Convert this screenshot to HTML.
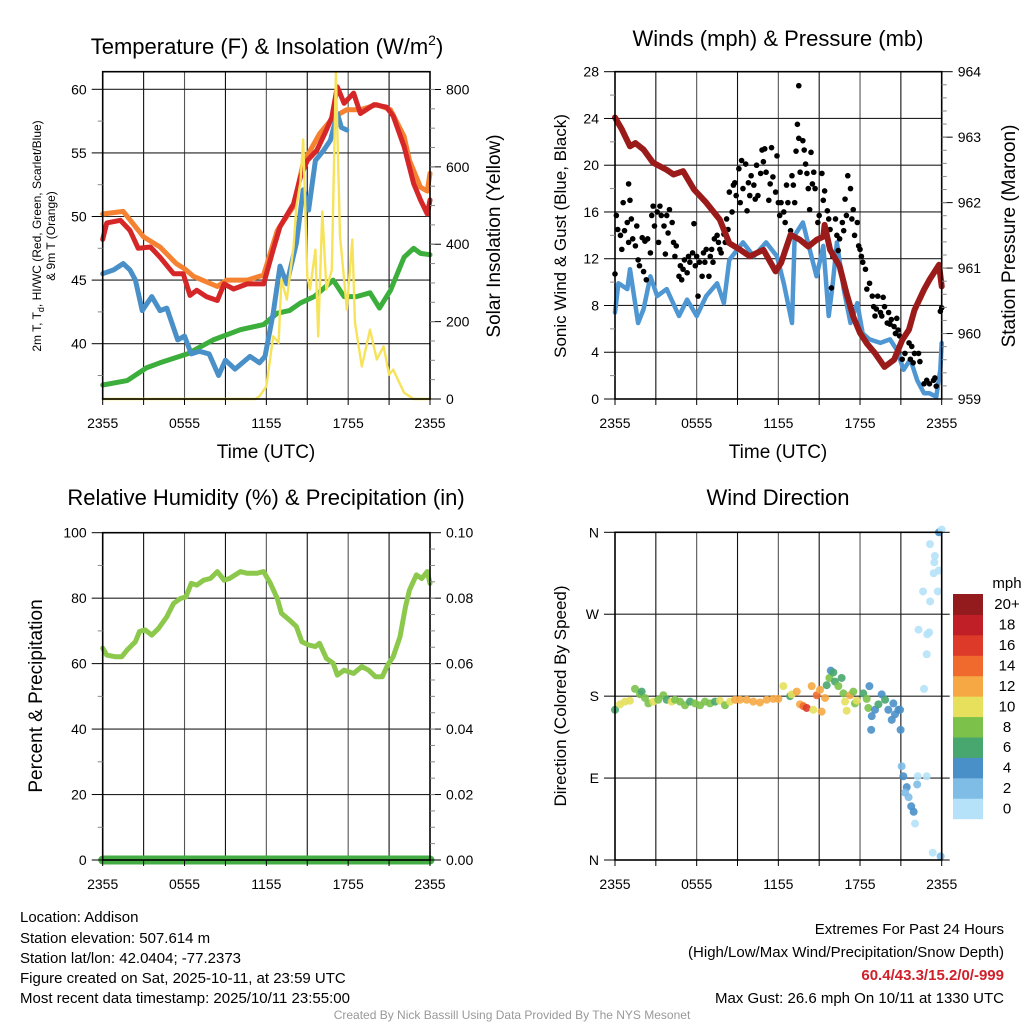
<!DOCTYPE html>
<html><head><meta charset="utf-8">
<style>
html,body{margin:0;padding:0;background:#fff;}
svg{display:block;font-family:"Liberation Sans",Arial,sans-serif;}
</style></head>
<body>
<svg id="chart" width="1024" height="1024" viewBox="0 0 1024 1024" xmlns="http://www.w3.org/2000/svg">
<rect width="1024" height="1024" fill="#fff"/>
<g id="grids"></g>
<g id="series"></g>
<g id="axes"></g>
<text x="267" y="54" font-size="22" text-anchor="middle">Temperature (F) &amp; Insolation (W/m<tspan font-size="14" dy="-9">2</tspan><tspan dy="9">)</tspan></text>
<text x="778" y="46" font-size="22" text-anchor="middle">Winds (mph) &amp; Pressure (mb)</text>
<text x="266" y="505" font-size="22" text-anchor="middle">Relative Humidity (%) &amp; Precipitation (in)</text>
<text x="778" y="505" font-size="22" text-anchor="middle">Wind Direction</text>

<text x="266" y="458" font-size="19" text-anchor="middle">Time (UTC)</text>
<text x="778" y="458" font-size="19" text-anchor="middle">Time (UTC)</text>

<text transform="translate(41,236) rotate(-90)" font-size="12" text-anchor="middle">2m T, T<tspan font-size="9" dy="3">d</tspan><tspan dy="-3">, HI/WC (Red, Green, Scarlet/Blue)</tspan></text>
<text transform="translate(55,236) rotate(-90)" font-size="12" text-anchor="middle">&amp; 9m T (Orange)</text>
<text transform="translate(500,236) rotate(-90)" font-size="19" text-anchor="middle">Solar Insolation (Yellow)</text>
<text transform="translate(566,236) rotate(-90)" font-size="17" text-anchor="middle">Sonic Wind &amp; Gust (Blue, Black)</text>
<text transform="translate(1015,236) rotate(-90)" font-size="19" text-anchor="middle">Station Pressure (Maroon)</text>
<text transform="translate(42,696) rotate(-90)" font-size="19" text-anchor="middle">Percent &amp; Precipitation</text>
<text transform="translate(566,696) rotate(-90)" font-size="17" text-anchor="middle">Direction (Colored By Speed)</text>

<g font-size="15">
<text x="20" y="922">Location: Addison</text>
<text x="20" y="943">Station elevation: 507.614 m</text>
<text x="20" y="963">Station lat/lon: 42.0404; -77.2373</text>
<text x="20" y="983">Figure created on Sat, 2025-10-11, at 23:59 UTC</text>
<text x="20" y="1003">Most recent data timestamp: 2025/10/11 23:55:00</text>
</g>
<g font-size="15" text-anchor="end">
<text x="1004" y="934">Extremes For Past 24 Hours</text>
<text x="1004" y="957">(High/Low/Max Wind/Precipitation/Snow Depth)</text>
<text x="1004" y="980" fill="#d0202a" font-weight="bold">60.4/43.3/15.2/0/-999</text>
<text x="1004" y="1003">Max Gust: 26.6 mph On 10/11 at 1330 UTC</text>
</g>
<text x="512" y="1019" font-size="12" fill="#999" text-anchor="middle">Created By Nick Bassill Using Data Provided By The NYS Mesonet</text>
<text x="1007" y="588" font-size="15" text-anchor="middle">mph</text>
<g id="colorbar"></g>
</svg>
<script>
// ---------- DATA ----------
const xLabels = ["2355","0555","1155","1755","2355"];
const orangeH = [0,1.5,3,4.2,5.4,6,6.65,8.4,9.1,10.6,11.8,12.8,14,14.7,15.9,16.9,17.9,18.9,20.1,21.1,22.1,22.5,23.3,23.8,24];
const orangeV = [50.2,50.4,48.4,47.6,46.3,45.9,45.3,44.5,45,45,45.4,48.9,50.8,54.2,56.5,57.8,58.4,58.4,58.8,58.4,56.3,54.4,52.3,52,53.4];
const redH = [0,0.3,1.3,2,2.6,3.5,4.2,5.2,5.9,6.4,6.9,7.6,8.4,8.9,9.6,10.6,11.8,12.5,13,14,14.5,15,15.7,16.4,16.8,17.2,17.7,18.4,18.9,19.9,20.8,21.3,22.1,22.8,23.3,23.8,24];
const redV = [48.2,49.5,49.7,48.9,47.5,47.6,46.8,45.5,45.5,43.8,44.2,43.7,43.4,44.7,44.3,44.7,44.7,47.4,49.2,51,53.1,54.4,55.2,56.8,57.8,60.2,58.9,59.7,58.1,58.8,58.6,57.9,55.5,52.6,51.3,50.2,51.3];
const blueH = [0,0.8,1.5,2,2.4,2.9,3.6,4.2,4.7,5.5,6,6.5,7.1,7.8,8.5,9,9.7,10.8,11.5,11.9,12.5,13,13.5,14.2,14.7,15.1,15.6,16.2,16.7,17.2,17.5,17.9];
const blueV = [45.5,45.8,46.3,45.8,45,42.6,43.7,42.6,42.8,40.3,40.6,39.2,39.4,39.2,37.5,38.7,38,39,38.5,39,42.4,46.1,44.7,47.9,52.1,50.5,54.4,55.2,56,58.1,57,56.8];
const greenH = [0,1.8,3.2,4.2,6.2,8.1,10.1,11.8,12.8,13.7,14.5,15.5,16.9,17.7,18.6,19.6,20.3,21.1,22.1,22.8,23.3,24];
const greenV = [36.75,37.1,38.1,38.5,39.2,40.3,41.1,41.5,42.4,42.6,43.2,43.7,45,43.7,43.7,44,42.8,44.2,46.8,47.5,47.1,47];
const solarH = [0,11.2,11.5,12,12.5,12.9,13.1,13.5,14,14.2,14.5,14.7,15,15.2,15.6,15.8,16.1,16.4,16.8,17.1,17.4,17.7,17.9,18.3,18.5,19,19.6,20.1,20.6,21,21.3,22.1,22.8,24];
const solarV = [0,0,7,33,162,145,309,257,395,498,559,671,317,283,386,162,485,283,334,843,421,309,231,412,197,84,179,102,136,63,76,16,0,0];

const windH = [0,0.25,0.9,1.1,1.7,2.1,2.6,3.1,3.8,4.7,5.3,6,6.7,7.5,8,8.4,9.4,10.2,11.1,11.9,12.4,13,13.2,13.8,14.3,14.8,15.3,15.7,16,16.3,16.8,17.3,17.8,18.2,18.7,19.5,20.2,20.7,21.2,21.7,22.2,22.7,23.1,23.6,23.9,24];
const windV = [7.4,9.9,9.4,11.1,6.5,7.7,10.5,8.8,9.4,7.1,8.5,7.1,8.8,9.9,8.2,11.9,13.4,12.2,13.4,12.2,9.9,6.5,14,15.1,12.8,10.5,13.1,7.1,9.9,13.4,9.4,6.5,8.2,5.6,5.1,4.8,5.1,4.2,2.5,3.4,1.6,0.5,0.5,0.2,2.5,4.8];
const pressH = [0,0.5,1.1,1.5,2.1,2.8,3.8,4.3,5,5.8,6.7,7.7,8.4,9.2,9.9,10.9,11.8,12.2,12.9,13.6,14.2,14.8,15.3,15.4,15.8,16.5,17,17.5,18,18.5,19.1,19.8,20.5,21.1,21.6,22,22.7,23.1,23.8,24];
const pressV = [963.3,963.12,962.86,962.91,962.81,962.61,962.5,962.43,962.48,962.2,962,961.74,961.38,961.28,961.18,961.28,960.95,961.08,961.51,961.43,961.33,961.43,961.48,961.66,961.28,961.03,960.62,960.26,960.01,959.85,959.7,959.49,959.6,959.9,960.06,960.36,960.67,960.82,961.05,960.72];
const gustH = [0,0.1,0.2,0.4,0.5,0.6,0.7,0.9,1,1,1.1,1.2,1.3,1.5,1.6,1.7,1.8,2,2.1,2.2,2.3,2.4,2.6,2.7,2.8,2.9,3.1,3.2,3.3,3.4,3.6,3.7,3.8,3.9,4,4.2,4.3,4.4,4.5,4.7,4.8,4.9,5,5.1,5.3,5.4,5.5,5.7,5.8,5.9,6,6.1,6.2,6.4,6.5,6.6,6.7,6.9,7,7.1,7.2,7.3,7.5,7.6,7.7,7.8,8,8.1,8.2,8.3,8.4,8.6,8.7,8.8,8.9,9.1,9.2,9.3,9.4,9.6,9.7,9.8,9.9,10,10.2,10.3,10.4,10.5,10.7,10.8,10.9,11,11.1,11.3,11.4,11.5,11.6,11.8,11.9,12,12.1,12.2,12.4,12.5,12.6,12.7,12.9,13,13.1,13.2,13.3,13.4,13.5,13.5,13.6,13.8,13.9,14,14.1,14.2,14.3,14.4,14.5,14.6,14.7,14.9,15,15.2,15.3,15.4,15.6,15.7,15.8,15.9,16,16.2,16.3,16.4,16.5,16.7,16.8,16.9,17,17.1,17.3,17.4,17.5,17.6,17.8,17.9,18,18.1,18.2,18.4,18.5,18.7,18.9,19,19.1,19.2,19.3,19.5,19.6,19.7,19.8,20,20.1,20.2,20.3,20.5,20.6,20.7,20.8,20.9,21.1,21.3,21.6,21.7,21.8,21.9,22,22.3,22.4,22.7,22.9,23.1,23.4,23.5,23.6,23.9,24];
const gustV = [10.7,15.7,14.5,14,12.8,16.8,14.4,15.1,13.4,18.4,17,15.4,13.7,13.1,14.8,11.9,11.4,13.8,10.9,13.5,10.2,13.7,12.5,15.7,16.5,14.8,16,13.4,16.5,15.7,14.8,12.4,15.7,14.2,16.2,15.1,13.4,12.2,13.1,10.5,11.4,10.2,11.1,11.9,10.8,12.2,11.7,12.5,15,11.4,12.2,8.8,11.7,10.5,12.5,11.7,12.8,10.5,12.2,12.8,11.7,13.7,14,13.4,12.8,12.5,14.1,13.4,15.4,14.5,17.7,16,18.3,18.5,17.4,19.7,16.8,20.4,18,20.1,16.1,18.5,17.4,19.1,18.3,17.1,20,17.4,19.3,21.3,20.3,21.4,19.4,17,18.4,21.5,19,17.7,20.8,16.8,15.7,16.8,16,15.1,18.3,16.8,14.4,19.1,18.3,16.8,21.2,23.5,22.3,26.8,19.4,22.1,21.3,20.1,19.3,18,16.2,21.1,18.4,19.4,18,15.1,15.7,19.3,17,17.8,16.1,15.4,14.5,9.5,12.2,15.4,14,12.7,13.7,15.1,14.4,17.1,15.7,19.1,18,15.4,16.2,14,15.1,13.1,12.8,12.2,11.7,11.1,9.4,9.9,8.8,7.9,7.1,7.7,8.8,7.4,7.1,8.7,7.9,6.5,7.4,6.4,6.8,6.2,5.6,6.9,5.9,5.4,3.4,3.9,4.8,3.4,4.5,3.1,3.9,3.9,3.2,1.3,1.6,1.3,1.6,1.8,1.1,7.5,7.8];

const rhH = [0,0.3,0.9,1.4,1.8,2.4,2.7,3.1,3.6,4.1,4.7,5.2,5.7,6.1,6.5,6.9,7.4,7.9,8.4,8.9,9.3,10.1,10.6,11.3,11.8,12.3,12.8,13.1,13.7,14.2,14.6,15.1,15.6,15.9,16.4,16.9,17.2,17.7,18.4,19,19.5,20,20.5,20.9,21.3,21.8,22.2,22.5,23,23.4,23.8,24];
const rhV = [64.7,62.6,62.1,62.1,64.2,66.7,69.8,70.3,68.7,70.8,74.3,78.4,79.9,80.4,84.5,84,85.5,86,88.1,85.5,86,88.1,87.6,87.6,88.1,84.5,79.9,75.4,73.3,71.3,66.7,65.7,65.2,66.2,61.6,60.1,56.5,58,57,59.1,58,56,56,59.6,62.1,68.2,77.4,82.5,87.1,86,88.1,84.5];
const precipH = [0,24];
const precipV = [0,0];

const dirH = [0,0.37,0.73,1.1,1.47,1.84,1.96,2.2,2.45,2.82,3.18,3.55,3.8,4.16,4.41,4.78,5.14,5.51,5.88,6.25,6.61,6.98,7.35,7.71,8.08,8.45,8.82,9.18,9.67,10.16,10.65,11.14,11.63,12,12.37,12.86,12.98,13.35,13.59,13.84,14.08,14.45,14.57,14.82,15.06,15.18,15.43,15.55,15.75,15.85,16.04,16.16,16.41,16.65,16.78,16.9,17.02,17.27,17.51,17.63,17.76,18.24,18.49,18.61,18.69,18.86,18.82,19.1,19.35,19.59,19.84,20.08,20.33,20.45,20.57,20.82,20.94,20.98,21.06,21.18,21.43,21.31,21.57,21.76,21.94,22.04,22.24,22.2,22.9,22.7,22.9,22.94,23.08,22.3,22.63,23.15,23.71,23.14,23.5,23.46,23.41,23.78,23.8,24,23.34,23.92];
const dirV = [165,171,174,175,188,182,185,178,172,174,176,181,176,174,176,174,170,174,172,170,174,172,174,175,170,174,176,176,176,174,173,176,177,177,191,180,182,185,171,169,167,191,165,181,187,163,178,192,200,208,206,196,191,200,183,174,164,181,185,172,175,183,177,167,191,158,143,165,171,182,176,165,154,172,160,165,165,143,103,92,80,74,69,59,53,40,92,83,92,188,226,248,250,253,295,284,295,347,334,327,315,318,360,363,8,4];
const dirSpd = [6,10,10,10,8,8,6,8,8,10,8,8,6,10,8,8,8,6,8,8,8,8,6,10,8,10,12,12,12,12,12,12,12,12,10,6,10,12,12,14,16,12,10,14,12,12,12,6,8,4,6,6,8,6,8,10,10,12,8,8,10,6,8,8,4,4,4,4,6,4,6,4,4,4,4,4,4,4,2,4,4,2,2,4,4,0,0,2,0,0,0,0,0,0,0,0,0,0,0,0,0,0,4,0,0,2];

const cbLabels = ["0","2","4","6","8","10","12","14","16","18","20+"];
const cbColors = ["#b5e2f8","#80bde6","#4a90c8","#48a66f","#7cc24a","#e6e05c","#f6a844","#ef6a2c","#dd3a2a","#c01f27","#931b1e"];

// ---------- HELPERS ----------
const NS = "http://www.w3.org/2000/svg";
const gGrid = document.getElementById('grids');
const gSer = document.getElementById('series');
const gAx = document.getElementById('axes');
function mk(parent, tag, attrs){
  const e = document.createElementNS(NS, tag);
  for (const k in attrs) e.setAttribute(k, attrs[k]);
  parent.appendChild(e);
  return e;
}
function colorFor(s){
  const i = Math.max(0, Math.min(10, Math.floor(s/2 + 0.001)));
  return cbColors[i];
}
function panel(p){
  const xs = h => p.L + h/24*(p.R-p.L);
  // vertical grid every 3h
  for (let h=3; h<24; h+=3){
    const l = mk(gGrid,'line',{x1:xs(h),x2:xs(h),y1:p.T,y2:p.B,stroke: (h%6===0)?'#555':'#111','stroke-width':1.1});
    
    
  }
  // horizontal grid
  p.leftTicks.forEach(v=>{
    const y = p.yL(v);
    if (y>p.T+1 && y<p.B-1){
      const l = mk(gGrid,'line',{x1:p.L,x2:p.R,y1:y,y2:y,stroke:'#222','stroke-width':1.1});
      
      
    }
  });
  // frame
  const fr = mk(gAx,'rect',{x:p.L,y:p.T,width:p.R-p.L,height:p.B-p.T,fill:'none',stroke:'#000','stroke-width':1.6});
  
  
  // left ticks + labels
  p.leftTicks.forEach((v,i)=>{
    const y = p.yL(v);
    mk(gAx,'line',{x1:p.L-11,x2:p.L,y1:y,y2:y,stroke:'#000','stroke-width':1});
    const t = mk(gAx,'text',{x:p.L-16,y:y+5,'font-size':14,'text-anchor':'end'});
    t.textContent = p.leftLabels[i];
    
    
  });
  p.leftMinor.forEach(v=>{
    const y = p.yL(v);
    mk(gAx,'line',{x1:p.L-5,x2:p.L,y1:y,y2:y,stroke:'#888','stroke-width':1});
  });
  if (p.yR){
    p.rightTicks.forEach((v,i)=>{
      const y = p.yR(v);
      mk(gAx,'line',{x1:p.R,x2:p.R+11,y1:y,y2:y,stroke:'#000','stroke-width':1});
      const t = mk(gAx,'text',{x:p.R+16,y:y+5,'font-size':14,'text-anchor':'start'});
      t.textContent = p.rightLabels[i];
      
      
    });
    p.rightMinor.forEach(v=>{
      const y = p.yR(v);
      mk(gAx,'line',{x1:p.R,x2:p.R+5,y1:y,y2:y,stroke:'#888','stroke-width':1});
    });
  }
  // bottom ticks + labels
  for (let h=0; h<=24; h+=3){
    mk(gAx,'line',{x1:xs(h),x2:xs(h),y1:p.B,y2:p.B+6,stroke:'#000','stroke-width':1});
  }
  xLabels.forEach((s,i)=>{
    const t = mk(gAx,'text',{x:xs(i*6),y:p.B+29,'font-size':14,'text-anchor':'middle'});
    t.textContent = s;
    
    
  });
  return xs;
}
function line(xs, y, H, V, color, w, name){
  const pts = H.map((h,i)=> xs(h).toFixed(1)+','+y(V[i]).toFixed(1)).join(' ');
  const pl = mk(gSer,'polyline',{points:pts,fill:'none',stroke:color,'stroke-width':w,'stroke-linejoin':'round','stroke-linecap':'round'});
  
  
}
function range(a,b,s){const r=[];for(let v=a;v<=b+1e-9;v+=s)r.push(+v.toFixed(4));return r;}

// ---------- PANEL 1 ----------
const P1 = {name:'temp',L:102.7,R:430,T:71.7,B:399,
  yL: v => 89.3 + (60-v)*12.72,
  yR: w => 399 - w*0.3869,
  leftTicks:[40,45,50,55,60], leftLabels:["40","45","50","55","60"], leftMinor:[37.5,42.5,47.5,52.5,57.5],
  rightTicks:[0,200,400,600,800], rightLabels:["0","200","400","600","800"], rightMinor:range(50,800,50)};
const x1 = panel(P1);
line(x1,P1.yL,orangeH,orangeV,'#f58231',5,'orange-9m-temp-line');
line(x1,P1.yL,redH,redV,'#d62728',5,'red-2m-temp-line');
line(x1,P1.yL,greenH,greenV,'#3cae3c',5,'green-dewpoint-line');
line(x1,P1.yL,blueH,blueV,'#4a90c8',5,'blue-heat-index-line');
line(x1,P1.yR,solarH,solarV,'#f7e35a',2.4,'yellow-insolation-line');

// ---------- PANEL 2 ----------
const P2 = {name:'wind',L:615,R:941.7,T:71.7,B:399,
  yL: v => 399 - v*(327.3/28),
  yR: p => 399 - (p-959)*65.46,
  leftTicks:[0,4,8,12,16,20,24,28], leftLabels:["0","4","8","12","16","20","24","28"], leftMinor:range(2,26,4),
  rightTicks:[959,960,961,962,963,964], rightLabels:["959","960","961","962","963","964"], rightMinor:range(959.2,963.8,0.2)};
const x2 = panel(P2);
line(x2,P2.yL,windH,windV,'#4f97d3',4.5,'sonic-wind-line');
gustH.forEach((h,i)=>{
  const c = mk(gSer,'circle',{cx:x2(h),cy:P2.yL(gustV[i]),r:2.8,fill:'#000'});
  
  
});
line(x2,P2.yR,pressH,pressV,'#9b1b1b',6,'pressure-line');

// ---------- PANEL 3 ----------
const P3 = {name:'rh',L:102.7,R:430,T:532.7,B:860,
  yL: v => 860 - v*3.273,
  yR: p => 860 - p*3273,
  leftTicks:[0,20,40,60,80,100], leftLabels:["0","20","40","60","80","100"], leftMinor:range(10,90,20),
  rightTicks:[0,0.02,0.04,0.06,0.08,0.10], rightLabels:["0.00","0.02","0.04","0.06","0.08","0.10"], rightMinor:range(0.005,0.095,0.005)};
const x3 = panel(P3);
line(x3,P3.yL,rhH,rhV,'#8cc84b',5,'relative-humidity-line');
line(x3,P3.yR,precipH,precipV,'#43ad43',9,'precipitation-line');

// ---------- PANEL 4 ----------
const P4 = {name:'direction',L:615,R:941.7,T:532.3,B:860,
  yL: d => 860 - d/360*327.7,
  leftTicks:[0,90,180,270,360], leftLabels:["N","E","S","W","N"], leftMinor:[]};
const x4 = panel(P4);
// extend horizontal tick marks to right like reference
[0,90,180,270,360].forEach(d=>{ mk(gAx,'line',{x1:P4.R,x2:P4.R+8,y1:P4.yL(d),y2:P4.yL(d),stroke:'#000','stroke-width':1}); });
dirH.forEach((h,i)=>{
  const c = mk(gSer,'circle',{cx:x4(h),cy:P4.yL(dirV[i]),r:4,fill:colorFor(dirSpd[i]),'fill-opacity':0.9});
  
  
});

// ---------- COLORBAR ----------
const gCb = document.getElementById('colorbar');
const cbTop = 594, cbH = 224.7/11;
cbLabels.forEach((lab,i)=>{
  const y = cbTop + (10-i)*cbH;
  const r = mk(gCb,'rect',{x:953,y:y,width:30,height:cbH+0.5,fill:cbColors[i]});
  
  
  const t = mk(gCb,'text',{x:1007,y:y+cbH/2+5,'font-size':15,'text-anchor':'middle'});
  t.textContent = lab;
  
  
});
</script>
</body></html>
